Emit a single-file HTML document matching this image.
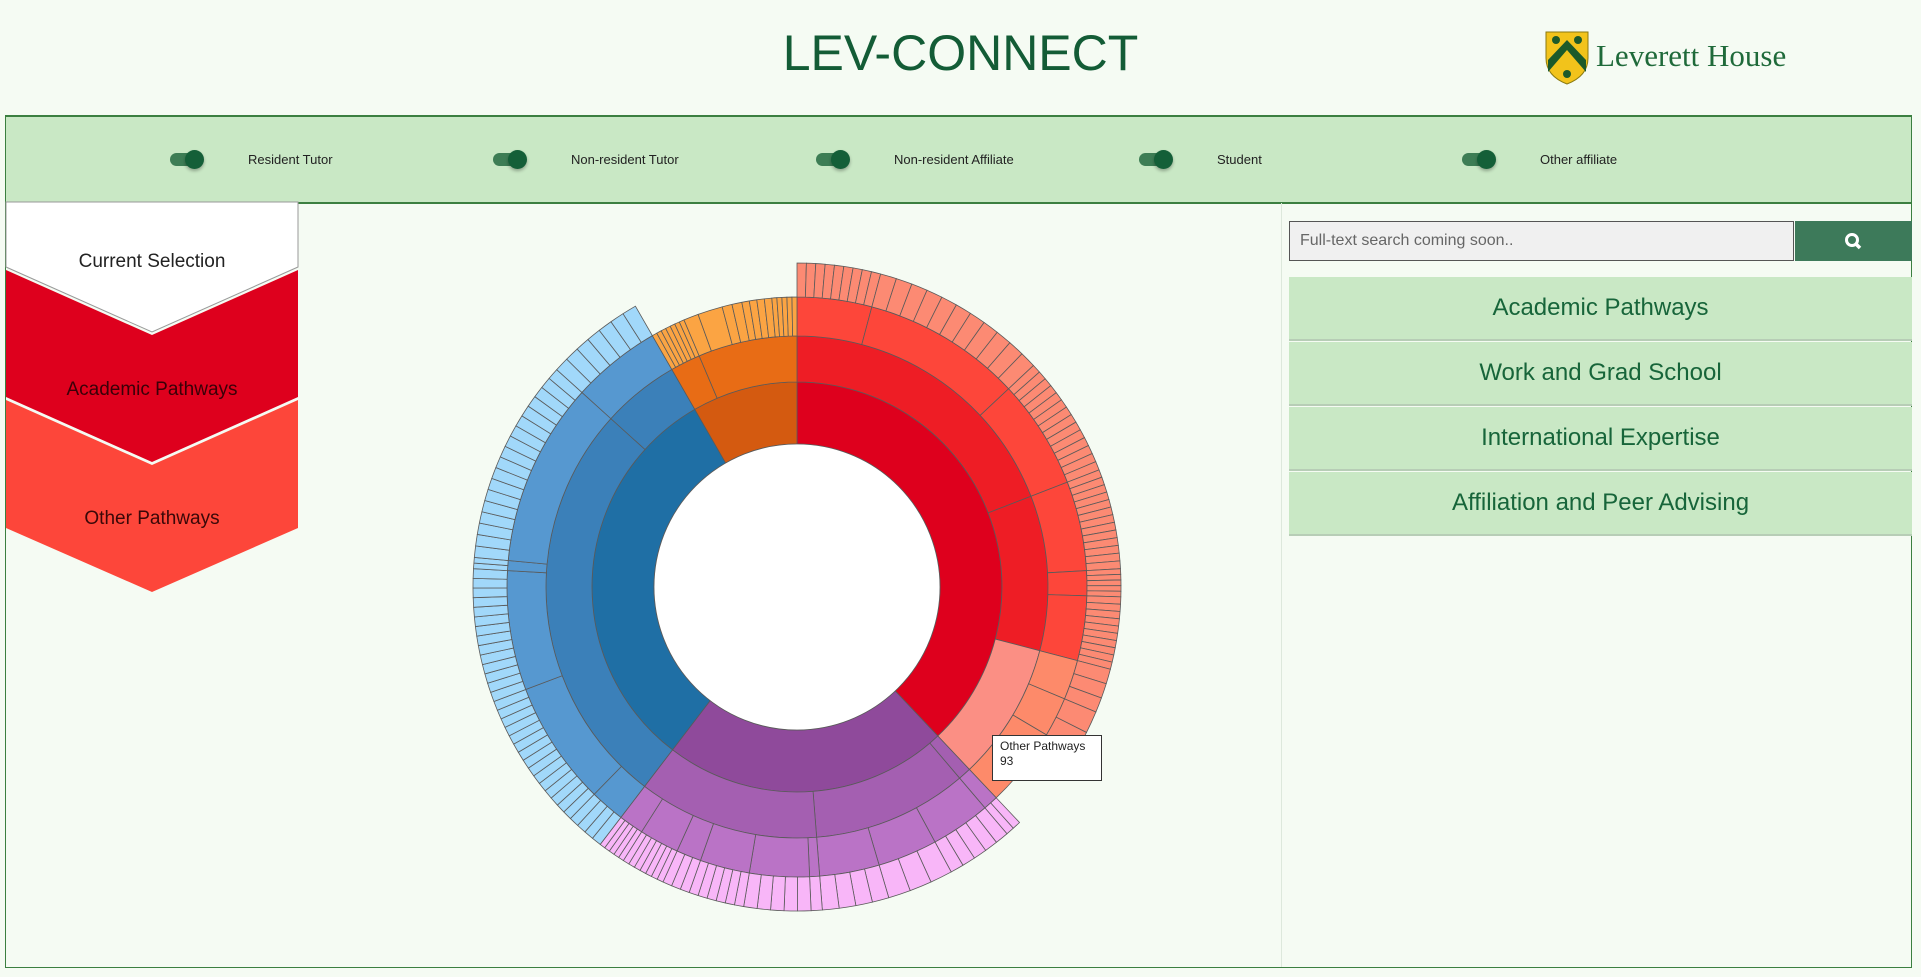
<!DOCTYPE html>
<html><head><meta charset="utf-8">
<style>
body{margin:0;width:1921px;height:977px;background:#f5fbf3;font-family:"Liberation Sans",sans-serif;position:relative;overflow:hidden}
.abs{position:absolute}
#title{left:0;width:1921px;top:24px;text-align:center;font-size:50px;color:#135c36}
#band{left:5px;top:115px;width:1905px;height:85px;background:#c9e8c5;border-top:2px solid #3b7f40;border-bottom:2px solid #3b7f40;border-left:1px solid #3b7f40;border-right:1px solid #3b7f40}
.tg{position:absolute;top:36px;width:30px;height:13px;border-radius:7px;background:#3d7d55}
.tg::after{content:"";position:absolute;left:15px;top:-3px;width:19px;height:19px;border-radius:50%;background:#145f38;box-shadow:0 2px 3px rgba(0,0,0,.3)}
.tl{position:absolute;top:35px;font-size:13px;color:#222}
#main{left:5px;top:202px;width:1905px;height:765px;border-left:1px solid #3b7f40;border-right:1px solid #3b7f40;border-bottom:1px solid #3b7f40}
.btn{position:absolute;left:1289px;width:623px;height:62px;background:#c9e8c5;border-bottom:2px solid #b7cdb6;text-align:center;line-height:62px;font-size:24px;color:#17653a}
</style></head><body>
<div id="title" class="abs">LEV-CONNECT</div>
<div class="abs" style="left:1544px;top:30px">
<svg width="280" height="56"><path d="M2 2 H44 V28 Q44 46 23 54 Q2 46 2 28 Z" fill="#f2c31b" stroke="#8a7a10"/><path d="M4 42 L23 20 L42 42 L42 30 L23 10 L4 30Z" fill="#1c5a2a"/><circle cx="12" cy="10" r="4" fill="#1c5a2a"/><circle cx="34" cy="10" r="4" fill="#1c5a2a"/><circle cx="23" cy="44" r="4" fill="#1c5a2a"/>
<text x="52" y="36" font-family="Liberation Serif,serif" font-size="31" fill="#1f6a3a">Leverett House</text></svg></div>
<div id="band" class="abs">
<div class="tg" style="left:164px"></div><div class="tl" style="left:242px">Resident Tutor</div>
<div class="tg" style="left:487px"></div><div class="tl" style="left:565px">Non-resident Tutor</div>
<div class="tg" style="left:810px"></div><div class="tl" style="left:888px">Non-resident Affiliate</div>
<div class="tg" style="left:1133px"></div><div class="tl" style="left:1211px">Student</div>
<div class="tg" style="left:1456px"></div><div class="tl" style="left:1534px">Other affiliate</div>
</div>
<div id="main" class="abs"></div>
<div class="abs" style="left:1281px;top:203px;width:1px;height:764px;background:#dde8dc"></div>
<svg class="abs" style="left:0;top:0" width="320" height="600">
<path d="M6 202 H298 V267 L152 332 L6 267Z" fill="#fff" stroke="#999" stroke-width="1"/>
<path d="M6 270 L152 335 L298 270 V397 L152 462 L6 397Z" fill="#de001d"/>
<path d="M6 400 L152 465 L298 400 V528 L152 592 L6 528Z" fill="#fd463a"/>
<text x="152" y="267" text-anchor="middle" font-size="19" fill="#222" font-family="Liberation Sans,sans-serif">Current Selection</text>
<text x="152" y="395" text-anchor="middle" font-size="19" fill="#3a0008" font-family="Liberation Sans,sans-serif">Academic Pathways</text>
<text x="152" y="524" text-anchor="middle" font-size="19" fill="#3a0808" font-family="Liberation Sans,sans-serif">Other Pathways</text>
</svg>
<div class="abs" style="left:1289px;top:221px;height:38px;background:#f0f0f0;border:1px solid #555;font-size:16px;color:#666;line-height:38px;padding-left:10px;width:493px">Full-text search coming soon..</div>
<div class="abs" style="left:1795px;top:221px;width:117px;height:40px;background:#3d7a5a">
<svg width="117" height="40"><circle cx="57" cy="19" r="5.5" fill="none" stroke="#fff" stroke-width="3"/><line x1="61" y1="23" x2="65" y2="27" stroke="#fff" stroke-width="3.5"/></svg></div>
<div class="btn" style="top:277px">Academic Pathways</div>
<div class="btn" style="top:342px">Work and Grad School</div>
<div class="btn" style="top:407px">International Expertise</div>
<div class="btn" style="top:472px">Affiliation and Peer Advising</div>
<svg id="sun" class="abs" style="left:0;top:0" width="1921" height="977"></svg>
<div class="abs" style="left:992px;top:735px;height:38px;background:#fff;border:1px solid #333;font-size:12px;line-height:15px;padding:3px 16px 3px 7px;white-space:nowrap;color:#222">Other Pathways<br>93</div>
<script>
// top-level categories
const catNames=["Academic Pathways","International Expertise","Work and Grad School","Affiliation and Peer Advising"];
const catColors=[["#de001d","#ee1d25","#fd463a","#fc8a73"],["#8f4a9b","#a45fb1","#ba73c6","#f8b6f8"],["#1f6fa5","#3b80b9","#5698d0","#a1d8fa"],["#d45a10","#e86c15","#fba443","#fba443"]];
// level-2 node names per category
const level2Names=[["Academic","Research","Other Pathways"],["Global A","Global B","Global C"],["Work","Grad School"],["Peer A","Peer B"]];
// level-3 values per level-2 node
const level3Values=[
 [[15,32,22],[18,5,13],[8,8,8,8]],
 [[3],[12,12,12],[2,12,10,5,8,5]],
 [[7,25,24,2,37],[18]],
 [[1,1,1,1,1,1,1],[3,5,2,2,1.5,1.5,1.5,1.5,1,1,1,1,1]]
];
// number of leaf members under each level-3 node
const leafCounts=[
 [[9,11,14],[13,5,10],[3,2,0,0]],
 [[2],[5,3,4],[1,5,6,3,7,5]],
 [[4,15,14,2,18],[7]],
 [[0,0,0,0,0,0,0],[0,0,0,0,0,0,0,0,0,0,0,0,0]]
];
const cx=797,cy=587,radii=[143,205,251,290,324];
const svg=document.getElementById('sun');const NS="http://www.w3.org/2000/svg";
const total=level3Values.flat(2).reduce((a,b)=>a+b,0);
function ang(v){return v/total*2*Math.PI;}
function pt(r,a){return [cx+r*Math.sin(a),cy-r*Math.cos(a)];}
function arc(a0,a1,r0,r1,fill,name){
 const p=document.createElementNS(NS,'path');
 const lg=(a1-a0)>Math.PI?1:0;
 const [x0,y0]=pt(r1,a0),[x1,y1]=pt(r1,a1),[x2,y2]=pt(r0,a1),[x3,y3]=pt(r0,a0);
 p.setAttribute('d',`M${x0} ${y0}A${r1} ${r1} 0 ${lg} 1 ${x1} ${y1}L${x2} ${y2}A${r0} ${r0} 0 ${lg} 0 ${x3} ${y3}Z`);
 p.setAttribute('fill',fill);p.setAttribute('stroke','#5a5a5a');p.setAttribute('stroke-width','0.8');
 
 
 svg.appendChild(p);
}
let a=0;
level3Values.forEach((cat,ci)=>{
 const cs=cat.flat().reduce((s,v)=>s+v,0);const ca=a;
 arc(ca,ca+ang(cs),radii[0],radii[1],catColors[ci][0],'category-arc');
 cat.forEach((l2,li)=>{
  const ls=l2.reduce((s,v)=>s+v,0);const la=a;
  arc(la,la+ang(ls),radii[1],radii[2],(ci==0&&li==2)?"#fb8f84":catColors[ci][1],'subcategory-arc');
  l2.forEach((v,ki)=>{
   const s=a,e=a+ang(v);
   arc(s,e,radii[2],radii[3],(ci==0&&li==2)?"#fd8a6a":catColors[ci][2],'topic-arc');
   const n=leafCounts[ci][li][ki];
   for(let j=0;j<n;j++){arc(s+(e-s)*j/n,s+(e-s)*(j+1)/n,radii[3],radii[4],catColors[ci][3],'member-arc');}
   a=e;
  });
 });
});
const c=document.createElementNS(NS,'circle');c.setAttribute('cx',cx);c.setAttribute('cy',cy);c.setAttribute('r',radii[0]);c.setAttribute('fill','#fff');c.setAttribute('stroke','#5a5a5a');c.setAttribute('stroke-width','0.8');


svg.appendChild(c);
</script>
</body></html>
